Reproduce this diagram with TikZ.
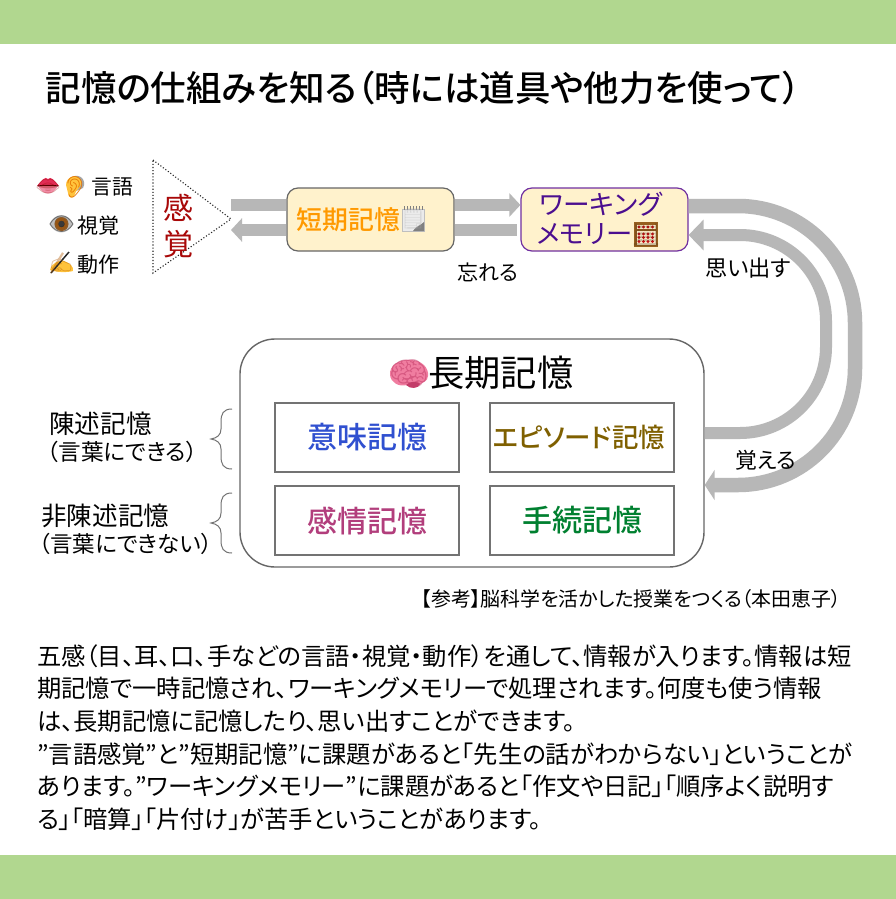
\documentclass[tikz,border=0pt]{standalone}
\usepackage{fontspec}
\usetikzlibrary{arrows.meta,calc}
\setmainfont{Noto Sans CJK JP}[RawFeature=+palt]
\newfontfamily\jpm{Noto Sans CJK JP Medium}[RawFeature=+palt]
\newfontfamily\emo{Noto Emoji}
\newcommand{\fs}[1]{\fontsize{#1}{#1}\selectfont}
\definecolor{barc}{HTML}{B7B7B7}
\definecolor{greenc}{HTML}{B1D78F}
\definecolor{creamc}{HTML}{FFF2CC}
\definecolor{linec}{HTML}{666666}
\definecolor{lipl}{RGB}{240,140,165}
\definecolor{lipu}{RGB}{225,45,85}
\definecolor{skin}{RGB}{255,195,60}
\definecolor{iris}{RGB}{150,85,20}
\definecolor{wood}{RGB}{150,95,30}
\definecolor{abg}{RGB}{250,235,200}
\definecolor{bead}{RGB}{200,15,20}
\definecolor{brainl}{RGB}{240,125,160}
\definecolor{braind}{RGB}{195,60,105}
\definecolor{senc}{RGB}{168,8,8}
\definecolor{wmc}{RGB}{75,14,143}
\definecolor{wmb}{RGB}{112,48,160}
\definecolor{imic}{RGB}{48,80,208}
\definecolor{epic}{RGB}{127,96,0}
\definecolor{kanc}{RGB}{178,62,124}
\definecolor{tetc}{RGB}{0,128,48}
\tikzset{
  x=1pt,y=-1pt,
  txt/.style={inner sep=0pt,anchor=west,text=black},
  emoji/.style={inner sep=0pt,anchor=center},
  bar/.style={draw=barc,line width=#1,line cap=butt},
  headL/.style={-{Triangle[length=11pt,width=23pt]}},
  cream/.style={draw=linec,line width=1.2pt,fill=creamc,rounded corners=11pt,minimum width=167pt,minimum height=63pt,inner sep=0pt},
  mem/.style={draw=black!55,line width=1.6pt,fill=white,minimum width=184pt,minimum height=69pt,inner sep=0pt},
}
\begin{document}
\begin{tikzpicture}
\useasboundingbox (0,0) rectangle (896,899);
\fill[white] (0,0) rectangle (896,899);
\fill[greenc] (0,0) rectangle (896,44.5);
\fill[greenc] (0,855) rectangle (896,899);
% title
\node[txt] (title) at (45.5,88) {\jpm\fs{35.5}記憶の仕組みを知る（時には道具や他力を使って）};
% lips
\fill[lipl] (38,186) .. controls (44,196) and (52,196) .. (58,186) -- cycle;
\fill[lipu] (37,186) .. controls (42,180) and (45,176) .. (48,179) .. controls (51,176) and (54,180) .. (59,186) .. controls (52,185) and (44,185) .. (37,186) -- cycle;
\draw[line width=1pt,black!70!red] (38,186) .. controls (44,185) and (52,185) .. (58,186);
\node[emoji,text=red!60!black,opacity=.35] (lips) at (48,187) {\emo\fs{20}👄};
% ear
\fill[black!35] (72,177) .. controls (80,173) and (87,180) .. (83,188) -- (74,192) -- cycle;
\fill[skin] (66,185) .. controls (66,176) and (78,173) .. (81,181) .. controls (82,188) and (75,190) .. (75,194) .. controls (74,199) and (68,199) .. (68,193) -- cycle;
\node[emoji,text=orange!90!black] (ear) at (75,187) {\emo\fs{21}👂};
\node[txt] (gengo) at (91.5,187) {\fs{20.8}言語};
% eye
\fill[black!25,draw=black!55,line width=.8pt] (50,224) .. controls (56,213) and (67,213) .. (73,224) .. controls (67,234) and (56,234) .. (50,224) -- cycle;
\fill[iris] (61.5,224) circle[radius=7];
\fill[black!85] (61.5,224) circle[radius=3.2];
\node[emoji,text=black!60,opacity=.3] (eye) at (61.5,224) {\emo\fs{21}👁};
\node[txt] (shikaku) at (77.5,225.5) {\fs{21}視覚};
% writing hand
\fill[skin] (50,270) .. controls (52,262) and (60,260) .. (64,261) .. controls (70,263) and (74,267) .. (73,271) .. controls (65,273) and (56,272) .. (50,270) -- cycle;
\draw[line width=1.5pt,black!85] (51,273) -- (69,252);
\node[emoji,text=orange!70!black,opacity=.4] (hand) at (61,263) {\emo\fs{21}✍};
\node[txt] (dousa) at (77.5,264.5) {\fs{21}動作};
% triangle
\coordinate (t1) at (153,160);
\coordinate (t2) at (153,273);
\coordinate (t3) at (231,219);
\draw[line width=1.1pt,dotted,black!85] (t1) -- (t3) -- (t2) -- cycle;
\node[inner sep=0pt,text=senc,align=center] (kan1) at (178,208) {\fs{30}感};
\node[inner sep=0pt,text=senc,align=center] (kan2) at (178,244) {\fs{30}覚};
% boxes
\node[cream] (stm) at (370.5,219.5) {\makebox[167pt][l]{\hspace{9.5pt}\color[HTML]{FF9900}\jpm\fs{25.9}短期記憶}};
\node[cream,draw=wmb] (wm) at (604.5,219.5) {};
\node[inner sep=0pt,text=wmc,anchor=west] (wm1) at (539.5,204) {\fs{26.7}ワーキング};
\node[inner sep=0pt,text=wmc,anchor=west] (wm2) at (536.5,234) {\fs{26.3}メモリー};
% note icon
\fill[black!8,draw=black!25,line width=.5pt] (402.5,209) rectangle (424,231);
\fill[black!50] (424,222) -- (424,231) -- (413,231) .. controls (416,226) and (420,226) .. (424,222) -- cycle;
\foreach \i in {0,...,6}{\draw[black!50,line width=1pt] ({404+\i*3},206) -- ({404+\i*3},210);}
\node[emoji,text=black!30,opacity=.35] (note) at (413,219) {\emo\fs{20}🗒};
% abacus icon
\fill[wood] (634,222) rectangle (658,247);
\fill[abg] (636.5,224.5) rectangle (655.5,244.5);
\fill[wood] (636.5,229) rectangle (655.5,230.5);
\foreach \i in {0,1,2,3}{
  \fill[bead] ({639+\i*4.5},227) circle[radius=1.7];
  \fill[bead] ({639+\i*4.5},234) circle[radius=1.7];
  \fill[bead] ({639+\i*4.5},237.5) circle[radius=1.7];
  \fill[bead] ({639+\i*4.5},241.5) circle[radius=1.7];
}
\node[emoji,text=black!70!brown,opacity=.25] (abacus) at (646,234.5) {\emo\fs{22}🧮};
\node[draw=linec,line width=1.4pt,fill=white,rounded corners=35pt,minimum width=464pt,minimum height=228pt] (ltm) at (472,453) {};
% brain icon
\fill[brainl] (390,375) .. controls (389,365) and (400,359) .. (410,360) .. controls (422,360) and (429,368) .. (428,376) .. controls (428,381) and (422,383) .. (420,384) .. controls (418,389) and (410,389) .. (407,385) .. controls (399,387) and (391,383) .. (390,375) -- cycle;
\fill[braind] (406,385) .. controls (410,381) and (416,381) .. (420,384) .. controls (418,389) and (410,389) .. (406,385) -- cycle;
\node[emoji,text=braind,opacity=.55] (brain) at (409,374) {\emo\fs{32}🧠};
\node[txt] (ltmt) at (428,373) {\fs{36.3}長期記憶};
\node[mem,text=imic] (imi) at (367,437.5) {\jpm\fs{30}意味記憶};
\node[mem,text=epic] (epi) at (582,437.5) {\jpm\fs{26.5}エピソード記憶\kern6pt};
\node[mem,text=kanc] (kanj) at (367,520.5) {\jpm\fs{30}感情記憶};
\node[mem,text=tetc] (tetsu) at (582,520.5) {\jpm\fs{30}手続記憶};
% connectors
\draw[bar=12pt] ($(t3)+(0,-14)$) -- (stm.west|-0,205);
\draw[bar=12pt,headL] (stm.west|-0,230) -- ($(t3)+(0,11)$);
\draw[bar=12pt,headL] (stm.east|-0,205) -- (wm.west|-0,205);
\draw[bar=12pt] (stm.east|-0,230) -- ($(wm.west|-0,230)+(-3,0)$);
\draw[bar=14.5pt,rounded corners=117pt,-{Triangle[length=10pt,width=30pt]}] (wm.east|-0,206) -- (855,206) -- (855,485) -- (ltm.east|-0,485);
\draw[bar=12pt,rounded corners=86pt,-{Triangle[length=15pt,width=30pt]}] (ltm.east|-0,433) -- (826,433) -- (826,235) -- (wm.east|-0,235);
% connector labels
\node[txt] (wasure) at (457,272.5) {\fs{21}忘れる};
\node[txt] (omoi) at (705,268) {\fs{22.2}思い出す};
\node[txt] (oboe) at (735,460) {\fs{21.8}覚える};
% left labels
\node[txt] (chin) at (49,424) {\fs{25.6}陳述記憶};
\node[txt] (chin2) at (47,452) {\fs{22.6}（言葉にできる）};
\node[txt] (hi) at (41,515.5) {\fs{25.6}非陳述記憶};
\node[txt] (hi2) at (39,543.5) {\fs{22.5}（言葉にできない）};
% braces
\draw[line width=1pt,black!55] (232,409) .. controls (223,409) and (221,414) .. (221,422) -- (221,429) .. controls (221,435) and (217,438) .. (211,439) .. controls (217,440) and (221,443) .. (221,449) -- (221,456) .. controls (221,464) and (223,469) .. (232,469);
\draw[line width=1pt,black!55] (232,493) .. controls (223,493) and (221,498) .. (221,506) -- (221,513) .. controls (221,519) and (217,522) .. (211,523) .. controls (217,524) and (221,527) .. (221,533) -- (221,540) .. controls (221,548) and (223,553) .. (232,553);
% reference
\node[txt] (ref) at (421,599) {\fs{19.9}【参考】脳科学を活かした授業をつくる（本田恵子）};
% body
\node[txt] (b1) at (37,656) {\fs{24.3}五感（目、耳、口、手などの言語・視覚・動作）を通して、情報が入ります。情報は短};
\node[txt] (b2) at (37,688) {\fs{24.3}期記憶で一時記憶され、ワーキングメモリーで処理されます。何度も使う情報};
\node[txt] (b3) at (37,721) {\fs{24.3}は、長期記憶に記憶したり、思い出すことができます。};
\node[txt] (b4) at (37,754) {\fs{24.3}”言語感覚”と”短期記憶”に課題があると「先生の話がわからない」ということが};
\node[txt] (b5) at (37,786) {\fs{24.3}あります。”ワーキングメモリー”に課題があると「作文や日記」「順序よく説明す};
\node[txt] (b6) at (37,819) {\fs{24.3}る」「暗算」「片付け」が苦手ということがあります。};
\end{tikzpicture}
\end{document}
